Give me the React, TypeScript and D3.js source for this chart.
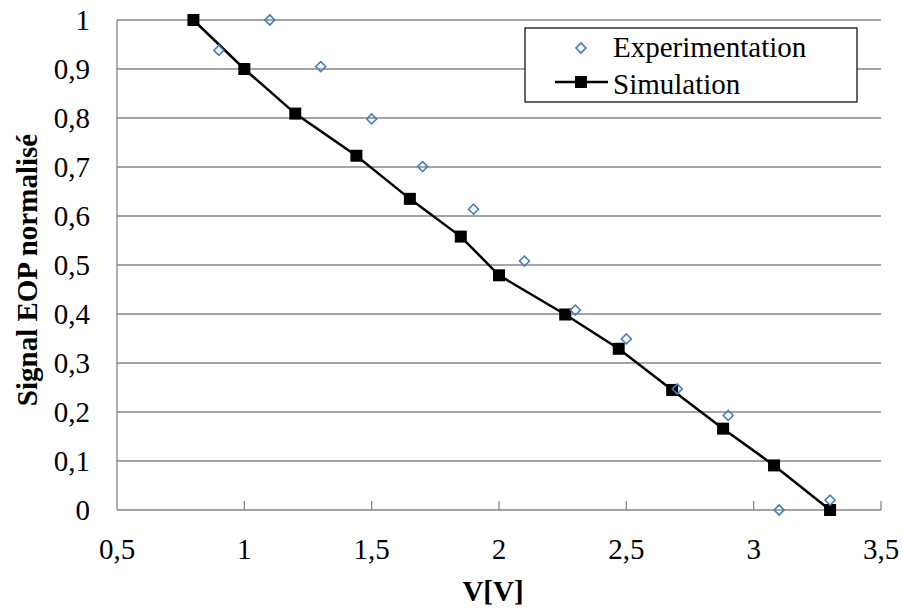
// EOP signal vs voltage chart with D3
import React, { useEffect } from 'react';
import * as d3 from 'd3';

const simX = [0.8, 1.0, 1.2, 1.44, 1.65, 1.85, 2.0, 2.26, 2.47, 2.68, 2.88, 3.08, 3.3];
const simY = [1.0, 0.9, 0.809, 0.723, 0.635, 0.558, 0.479, 0.399, 0.329, 0.245, 0.166, 0.091, 0.0];
const expX = [0.9, 1.1, 1.3, 1.5, 1.7, 1.9, 2.1, 2.3, 2.5, 2.7, 2.9, 3.1, 3.3];
const expY = [0.938, 1.0, 0.905, 0.798, 0.701, 0.614, 0.508, 0.408, 0.349, 0.247, 0.193, 0.0, 0.02];
const xTicks = [0.5, 1, 1.5, 2, 2.5, 3, 3.5];
const yTicks = [0, 0.1, 0.2, 0.3, 0.4, 0.5, 0.6, 0.7, 0.8, 0.9, 1];

const App = () => {
  const svgRef = React.useRef<SVGSVGElement>(null);

  useEffect(() => {
    if (!svgRef.current) return;
    const svg = d3.select(svgRef.current);
    svg.selectAll('*').remove();

    const grid = '#868686';
    const blue = '#4a7ebb';
    const left = 117, right = 881, top = 20, bottom = 510;

    const fr = d3.formatLocale({ decimal: ',', thousands: ' ', grouping: [3], currency: ['', ''] });
    const fmt = fr.format('.1~f');

    const x = d3.scaleLinear().domain([0.5, 3.5]).range([left, right]);
    const y = d3.scaleLinear().domain([0, 1]).range([bottom, top]);

    // horizontal gridlines
    svg.append('g')
      .selectAll('line')
      .data(yTicks.filter(v => v > 0))
      .enter()
      .append('line')
      .attr('x1', left).attr('x2', right)
      .attr('y1', d => y(d)).attr('y2', d => y(d))
      .attr('stroke', grid).attr('stroke-width', 1.3);

    // axes lines
    svg.append('line')
      .attr('x1', left).attr('x2', left).attr('y1', top).attr('y2', bottom)
      .attr('stroke', grid).attr('stroke-width', 1.3);
    svg.append('line')
      .attr('x1', left).attr('x2', right).attr('y1', bottom).attr('y2', bottom)
      .attr('stroke', grid).attr('stroke-width', 1.3);

    // x ticks (inside)
    svg.append('g')
      .selectAll('line')
      .data(xTicks.slice(1))
      .enter()
      .append('line')
      .attr('x1', d => x(d)).attr('x2', d => x(d))
      .attr('y1', bottom).attr('y2', bottom - 9)
      .attr('stroke', grid).attr('stroke-width', 1.3);

    // tick labels
    svg.append('g')
      .selectAll('text')
      .data(xTicks)
      .enter()
      .append('text')
      .attr('x', d => x(d)).attr('y', 559)
      .attr('text-anchor', 'middle')
      .text(d => fmt(d));

    svg.append('g')
      .selectAll('text')
      .data(yTicks)
      .enter()
      .append('text')
      .attr('x', 90).attr('y', d => y(d))
      .attr('dy', '0.34em')
      .attr('text-anchor', 'end')
      .text(d => fmt(d));

    // axis titles
    svg.append('text')
      .attr('x', 493).attr('y', 601)
      .attr('text-anchor', 'middle')
      .attr('font-weight', 'bold')
      .text('V[V]');
    svg.append('text')
      .attr('transform', 'translate(37,270) rotate(-90)')
      .attr('text-anchor', 'middle')
      .attr('font-weight', 'bold')
      .text('Signal EOP normalisé');

    // simulation line + markers
    const sim = simX.map((v, i) => [v, simY[i]] as [number, number]);
    const line = d3.line<[number, number]>().x(d => x(d[0])).y(d => y(d[1]));
    svg.append('path')
      .datum(sim)
      .attr('d', line)
      .attr('fill', 'none').attr('stroke', '#000').attr('stroke-width', 2.5);
    svg.append('g')
      .selectAll('rect')
      .data(sim)
      .enter()
      .append('rect')
      .attr('x', d => x(d[0]) - 6).attr('y', d => y(d[1]) - 6)
      .attr('width', 12).attr('height', 12)
      .attr('fill', '#000');

    // experimentation diamonds
    const diamond = d3.symbol().type(d3.symbolSquare).size(50);
    svg.append('g')
      .selectAll('path')
      .data(expX.map((v, i) => [v, expY[i]]))
      .enter()
      .append('path')
      .attr('d', diamond())
      .attr('transform', d => `translate(${x(d[0])},${y(d[1])}) rotate(45)`)
      .attr('fill', 'none').attr('stroke', blue).attr('stroke-width', 1.6);

    // legend
    const lg = svg.append('g');
    lg.append('rect')
      .attr('x', 525).attr('y', 28).attr('width', 332).attr('height', 74)
      .attr('fill', '#fff').attr('stroke', '#000').attr('stroke-width', 1.2);
    lg.append('path')
      .attr('d', diamond())
      .attr('transform', 'translate(581,48) rotate(45)')
      .attr('fill', 'none').attr('stroke', blue).attr('stroke-width', 1.6);
    lg.append('text')
      .attr('x', 613).attr('y', 57)
      .text('Experimentation');
    lg.append('line')
      .attr('x1', 555).attr('x2', 608).attr('y1', 82).attr('y2', 82)
      .attr('stroke', '#000').attr('stroke-width', 2.5);
    lg.append('rect')
      .attr('x', 575).attr('y', 76).attr('width', 12).attr('height', 12)
      .attr('fill', '#000');
    lg.append('text')
      .attr('x', 613).attr('y', 94)
      .text('Simulation');
  }, []);

  return (
    <svg
      ref={svgRef}
      width={902}
      height={611}
      fontFamily="'Liberation Serif', 'DejaVu Serif', Tinos, Times, serif"
      fontSize={29}
      style={{ position: 'absolute', left: 0, top: 0, background: '#fff' }}
    />
  );
};

export default App;
